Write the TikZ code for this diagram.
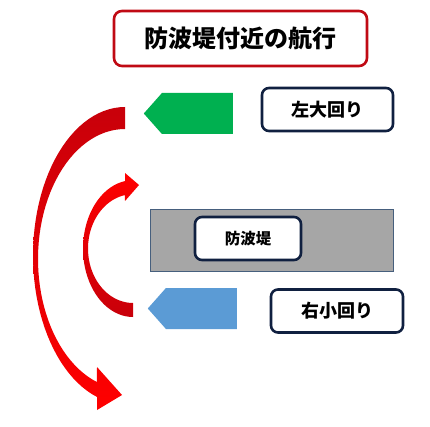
\documentclass[tikz,border=0pt]{standalone}
\usepackage{fontspec}
\setmainfont{Noto Sans CJK JP}
\usetikzlibrary{shapes.symbols, positioning}
\definecolor{titlered}{RGB}{192,10,20}
\definecolor{navy}{RGB}{16,32,64}
\definecolor{markgreen}{RGB}{0,176,80}
\definecolor{markblue}{RGB}{91,155,213}
\definecolor{wallgray}{RGB}{166,166,166}
\definecolor{wallline}{RGB}{70,95,125}
\definecolor{darkred}{RGB}{200,0,10}
\definecolor{brightred}{RGB}{255,0,0}

\begin{document}
\begin{tikzpicture}[x=1pt, y=-1pt,
    titlebox/.style={rectangle, draw=titlered, line width=2.6pt, fill=white, rounded corners=8pt, minimum width=253pt, minimum height=55pt, font=\fontsize{24}{28}\selectfont\bfseries},
    tagbox/.style={rectangle, draw=navy, line width=2.6pt, fill=white, rounded corners=7pt, minimum height=43pt, font=\fontsize{18}{22}\selectfont\bfseries},
    wall/.style={rectangle, draw=wallline, line width=0.8pt, fill=wallgray, minimum width=243pt, minimum height=62pt},
    shipmark/.style={signal, signal to=west, signal from=nowhere, signal pointer angle=97, minimum width=89pt, minimum height=41pt, inner sep=0pt, anchor=east}
]
    \useasboundingbox (0,0) rectangle (430,427);

    % title
    \node[titlebox] (title) at (240.5,38.5) {防波堤付近の航行};

    % big turn arrow
    \path[top color=darkred, bottom color=brightred] (125,107)
        -- plot[domain=0:162.3, samples=50] ({125-92*sin(\x)}, {255.5-148.5*cos(\x)})
        -- (97,410) -- (122,395) -- (97,367)
        -- plot[domain=0:161.2, samples=50] ({125-87*sin(161.2-\x)}, {259-130*cos(161.2-\x)})
        -- cycle;

    % small turn arrow
    \path[top color=brightred, bottom color=darkred] (133,317)
        -- plot[domain=0:170.8, samples=40] ({133-50*sin(\x)}, {248.6+68.4*cos(\x)})
        -- (125,173) -- (139,185) -- (125,201)
        -- plot[domain=0:169.7, samples=40] ({133-45*sin(169.7-\x)}, {248.6+54.4*cos(169.7-\x)})
        -- cycle;

    % ships and breakwater
    \node[shipmark, fill=markgreen] (bigmark) at (233,113.5) {};
    \node[shipmark, fill=markblue] (smallmark) at (237,308.5) {};
    \node[wall] (wall) at (271.5,240) {};

    \node[tagbox, minimum width=131pt] (bigtag) at (327.5,109.5) {左大回り};
    \node[tagbox, minimum width=132pt] (smalltag) at (337,311) {右小回り};
    \node[tagbox, minimum width=106pt, font=\fontsize{15.5}{19}\selectfont\bfseries] (walltag) at (248,238.5) {防波堤};
\end{tikzpicture}
\end{document}
